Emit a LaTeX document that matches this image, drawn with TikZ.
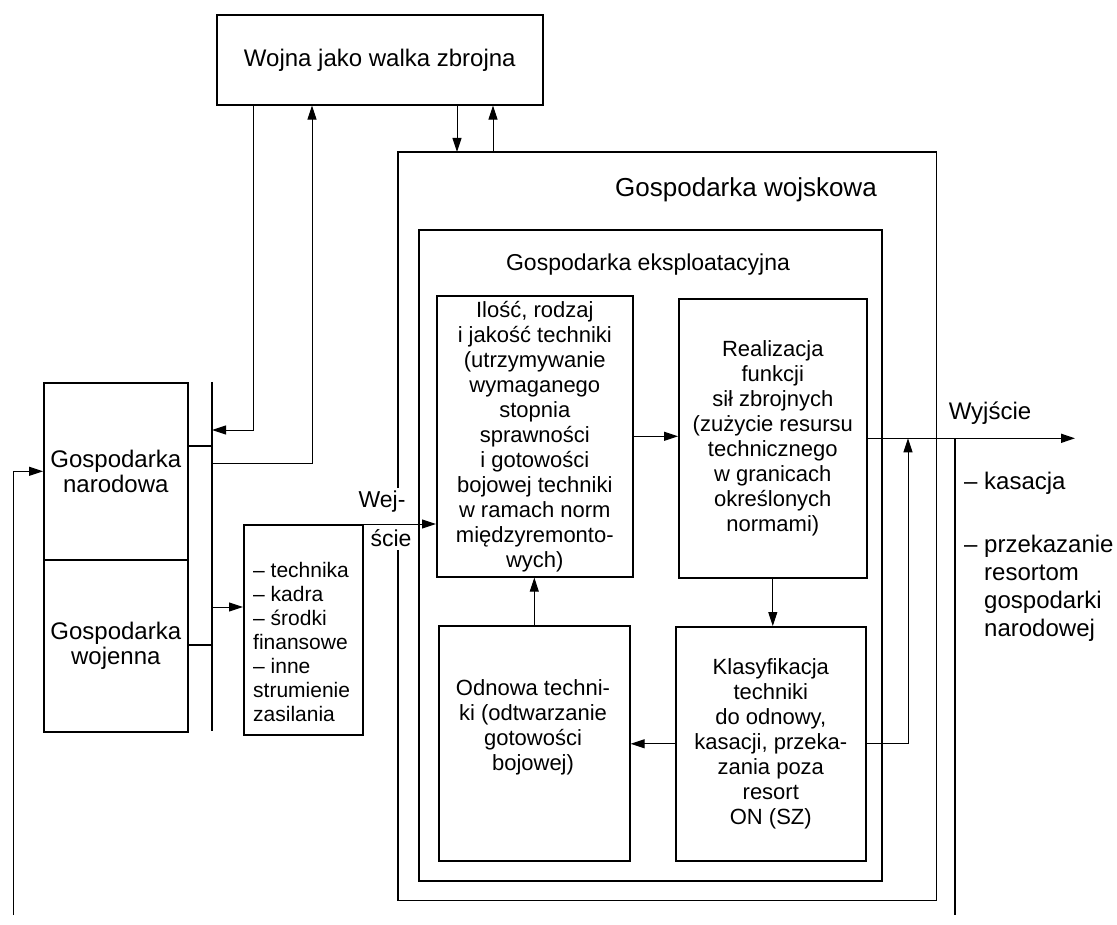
\documentclass[tikz,border=0pt]{standalone}
\usepackage{fontspec}
\setmainfont{Liberation Sans}
\usetikzlibrary{arrows.meta,calc}

\begin{document}
\begin{tikzpicture}[x=1pt,y=-1pt,
  box/.style={draw,line width=1.6pt,rectangle,inner sep=0pt,anchor=north west,align=center},
  frame/.style={line width=1.6pt},
  conn/.style={line width=1pt},
  bold/.style={line width=1.6pt},
  arr/.style={conn,-{Triangle[length=14pt,width=9pt]}},
  boldarr/.style={bold,-{Triangle[length=14pt,width=9pt]}},
  fbox/.style={font=\fontsize{22}{25}\selectfont},
  fside/.style={font=\fontsize{24}{25}\selectfont},
  flist/.style={font=\fontsize{21}{24}\selectfont},
  fout/.style={font=\fontsize{24}{28}\selectfont},
  txt/.style={inner sep=0pt}
]
\useasboundingbox (0,0) rectangle (1117,925);

% --- top box
\node[box,minimum width=326pt,minimum height=90pt,font=\fontsize{24}{28}\selectfont]
  (wojna) at (216,14) {Wojna jako walka zbrojna};

% --- military economy (outer frame, left side opened for the input label)
\node[inner sep=0pt,anchor=north west,minimum width=538pt,minimum height=748pt] (wojsk) at (398,152) {};
\coordinate (gapTop) at (398,488);
\coordinate (gapBot) at (398,550);
\draw[frame] (gapTop) -- (wojsk.north west) -- (wojsk.north east)
  -- (wojsk.south east) -- (wojsk.south west) -- (gapBot);
\node[txt,font=\fontsize{26}{30}\selectfont] (wojskT) at (746,190) {Gospodarka wojskowa};

% --- operating economy
\node[box,minimum width=463pt,minimum height=651pt] (eksp) at (418,229) {};
\node[txt,font=\fontsize{23}{27}\selectfont] (ekspT) at (648,265) {Gospodarka eksploatacyjna};

% --- four inner blocks
\node[box,fbox,minimum width=196pt,minimum height=281pt] (ilosc) at (436,295)
  {Ilość, rodzaj\\i jakość techniki\\(utrzymywanie\\wymaganego\\stopnia\\sprawności\\i gotowości\\bojowej techniki\\w ramach norm\\międzyremonto-\\wych)};
\node[box,fbox,minimum width=188pt,minimum height=279pt] (real) at (678,298)
  {Realizacja\\funkcji\\sił zbrojnych\\(zużycie resursu\\technicznego\\w granicach\\określonych\\normami)};
\node[box,minimum width=191pt,minimum height=235pt] (odnowa) at (438,625) {};
\node[txt,fbox,align=center] (odnowaT) at (533,727)
  {Odnowa techni-\\ki (odtwarzanie\\gotowości\\bojowej)};
\node[box,fbox,minimum width=190pt,minimum height=234pt] (klas) at (675,626)
  {Klasyfikacja\\techniki\\do odnowy,\\kasacji, przeka-\\zania poza\\resort\\ON (SZ)};

% --- national / war economy
\node[box,fside,minimum width=144pt,minimum height=177pt] (gn) at (43,382) {Gospodarka\\narodowa};
\node[box,fside,minimum width=144pt,minimum height=172pt] (gw) at (43,559) {Gospodarka\\wojenna};

% --- supply streams
\node[box,minimum width=119pt,minimum height=210pt] (supply) at (243,524) {};
\node[txt,flist,align=left,anchor=west] (supplyT) at (253,642)
  {– technika\\– kadra\\– środki\\finansowe\\– inne\\strumienie\\zasilania};

% --- collecting bus
\coordinate (busT) at (212,382);
\coordinate (busB) at (212,731);
\draw[bold] (busT) -- (busB);
\coordinate (feedA) at (212,430);
\coordinate (feedB) at (212,463);
\coordinate (gnOut) at (212,446);
\coordinate (gwOut) at (212,645);
\coordinate (supIn) at (212,607);
\coordinate (colA) at (253,0);
\coordinate (colB) at (312,0);
\coordinate (colC) at (457,0);
\coordinate (colD) at (493,0);
\coordinate (colE) at (908,0);
\coordinate (dropB) at (955,915);
\coordinate (outTip) at (1075,0);
\coordinate (loopB) at (13,915);

% --- connectors around the top box
\draw[arr] (wojna.south -| colA) |- (feedA);
\draw[arr] (feedB) -| (wojna.south -| colB);
\draw[arr] (wojna.south -| colC) -- (wojsk.north -| colC);
\draw[arr] (wojsk.north -| colD) -- (wojna.south -| colD);

% --- left side
\draw[bold] (gnOut -| gn.east) -- (gnOut);
\draw[bold] (gwOut -| gw.east) -- (gwOut);
\draw[arr] (supIn) -- (supIn -| supply.west);
\draw[arr] (loopB) |- (gn.west);

% --- input
\draw[arr] (supply.north east) -- (supply.north east -| ilosc.west);
\node[txt,font=\fontsize{23}{27}\selectfont] (wejA) at (382,502) {Wej-};
\node[txt,font=\fontsize{23}{27}\selectfont] (wejB) at (391,538) {ście};

% --- inner cycle
\draw[arr] (ilosc.east) -- (ilosc.east -| real.west);
\draw[arr] (real.south) -- (real.south |- klas.north);
\draw[arr] (klas.west) -- (klas.west -| odnowa.east);
\draw[arr] (odnowa.north) -- (odnowa.north |- ilosc.south);

% --- output
\draw[boldarr] (real.east) -- (real.east -| outTip);
\draw[arr] (klas.east) -| (colE |- real.east);
\draw[bold] (dropB |- real.east) -- (dropB);
\node[txt,font=\fontsize{24}{28}\selectfont] (wyj) at (990,413) {Wyjście};
\node[txt,fout,anchor=west] (kas) at (964,483) {– kasacja};
\node[txt,fout,align=left,anchor=north west] (przek) at (964,535)
  {– przekazanie\\\phantom{– }resortom\\\phantom{– }gospodarki\\\phantom{– }narodowej};
\end{tikzpicture}
\end{document}
